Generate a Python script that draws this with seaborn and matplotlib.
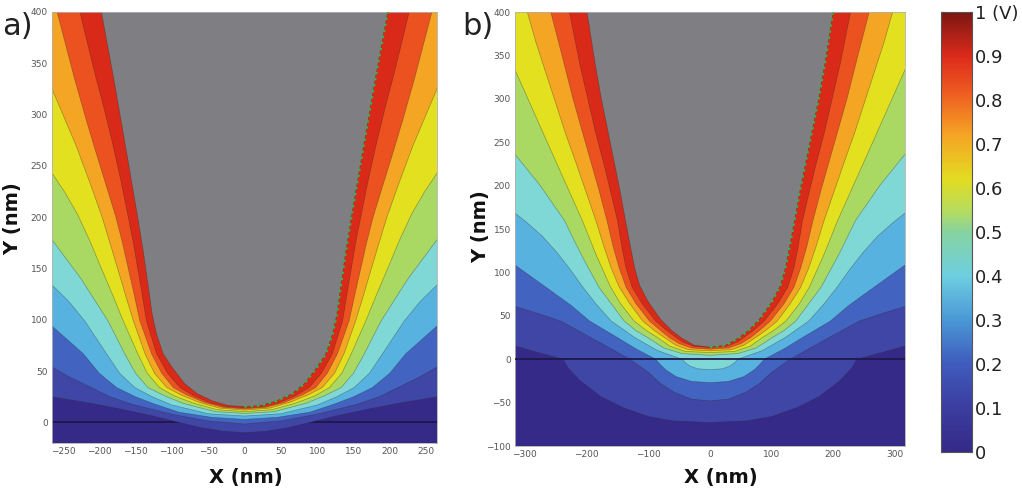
import matplotlib
matplotlib.use("Agg")
import matplotlib.pyplot as plt
import numpy as np
import seaborn as sns
from matplotlib.colors import LinearSegmentedColormap, Normalize
from matplotlib.cm import ScalarMappable

# equipotential levels (V); the last one is the tip surface itself
LEVELS = [0.1, 0.2, 0.3, 0.4, 0.5, 0.6, 0.7, 0.8, 0.9, 1.0]
BAND_COLORS = ["#3f46a6", "#4263bf", "#58b2e0", "#80d8d6", "#a9d962",
               "#e3e01f", "#f5a524", "#ec5220", "#d92a19", "#7f7e82"]
BASE_COLOR = "#362a88"

# panel a) right half of each equipotential, x / y in nm (mirrored about x = 0)
A_V01_X = [0, 30, 60, 90, 130, 170, 210, 265, 320]
A_V01_Y = [-10, -8.5, -5, 0, 7, 13, 18.5, 25, 30]
A_V02_X = [0, 50, 100, 156, 185, 211, 240, 265, 320]
A_V02_Y = [-1.5, 1.5, 8, 18, 25, 34, 44, 54, 76]
A_V03_X = [0, 45, 90, 124, 150, 176, 200, 222, 265, 320]
A_V03_Y = [3, 5, 10, 18, 25, 34, 48, 67, 94, 130]
A_V04_X = [0, 50, 100, 127, 151, 172, 190, 220, 242, 265, 320]
A_V04_Y = [6.3, 8.5, 17, 25, 34, 48, 67, 99, 118, 134, 178]
A_V05_X = [0, 40, 84, 110, 133, 150, 165, 188, 225, 265, 320]
A_V05_Y = [8.8, 10.5, 18.5, 26, 34, 48, 67, 99, 140, 178, 235]
A_V06_X = [0, 38, 71, 97, 117, 134, 147, 167, 182, 197, 213, 230, 248, 265, 310]
A_V06_Y = [10.5, 12.5, 19, 26, 34, 48, 67, 99, 125, 150, 177, 203, 225, 243, 290]
A_V07_X = [0, 35, 62, 88, 107, 124, 137, 153, 163, 173, 184, 196, 212, 232, 250, 265, 290, 315]
A_V07_Y = [12, 14, 19.5, 27, 34, 48, 67, 99, 122, 146, 172, 200, 232, 270, 300, 325, 370, 420]
A_V08_X = [0, 30, 55, 80, 98, 114, 128, 144, 152, 160, 168, 177, 190, 204, 218, 234, 258, 272]
A_V08_Y = [13.2, 14.8, 19.5, 27, 34, 48, 67, 99, 125, 150, 175, 200, 230, 262, 295, 335, 400, 440]
A_V09_X = [0, 25, 47, 70, 89, 106, 121, 135, 141, 147, 153, 160, 170, 181, 193, 206, 225, 238]
A_V09_Y = [14.3, 15.3, 19, 26, 34, 48, 67, 99, 125, 150, 175, 200, 235, 270, 305, 340, 395, 440]
A_TIP_X = [0, 22, 44, 65, 82, 100, 112, 121, 127, 132, 139, 147, 164, 180, 197, 210]
A_TIP_Y = [15.5, 16.5, 21, 28, 37.5, 54, 67, 86, 105, 130, 165, 200, 270, 335, 400, 452]

# panel b) same, tip above a dielectric (field continues below y = 0)
B_V01_X = [0, 60, 100, 140, 177, 210, 230, 238, 280, 317, 340]
B_V01_Y = [-73, -71, -66, -56, -43, -25, -10, 0, 8, 15.5, 20]
B_V02_X = [0, 30, 58, 80, 100, 118, 130, 160, 193, 242, 280, 317, 340]
B_V02_Y = [-48, -46, -38, -28, -15, -6, 0, 12, 25, 44, 53, 61, 66]
B_V03_X = [0, 30, 55, 72, 82, 88, 120, 150, 195, 225, 260, 317, 340]
B_V03_Y = [-27, -25.5, -20, -12, -5, 0, 12, 25, 44, 62, 80, 109, 120]
B_V04_X = [0, 20, 32, 40, 45, 85, 122, 160, 185, 206, 226, 248, 272, 296, 317, 340]
B_V04_Y = [-12, -11, -8, -4, 0, 10, 25, 44, 64, 83, 103, 123, 142, 157, 169, 184]
B_V05_X = [0, 45, 75, 101, 120, 139, 160, 180, 209, 236, 275, 317, 340]
B_V05_Y = [4.5, 6.5, 13, 25, 33, 44, 64, 83, 121, 160, 200, 237, 258]
B_V06_X = [0, 40, 65, 85, 103, 123, 145, 161, 185, 207, 265, 295, 317, 335]
B_V06_Y = [7.7, 9, 15, 25, 33, 44, 64, 83, 121, 160, 252, 300, 335, 365]
B_V07_X = [0, 35, 55, 74, 90, 109, 130, 147, 160, 172, 185, 202, 219, 235, 250, 266, 282, 296, 312]
B_V07_Y = [9.6, 11, 16, 25, 33, 44, 64, 83, 105, 130, 160, 195, 230, 262, 295, 330, 365, 400, 440]
B_V08_X = [0, 30, 50, 66, 80, 98, 120, 136, 147, 157, 167, 180, 194, 208, 222, 238, 258, 272]
B_V08_Y = [11.5, 13, 18, 25, 33, 44, 64, 83, 105, 130, 160, 195, 230, 265, 300, 345, 400, 440]
B_V09_X = [0, 25, 45, 55, 70, 88, 110, 126, 136, 143, 150, 160, 172, 185, 198, 211, 225, 242]
B_V09_Y = [13.5, 14.5, 20, 25, 33, 44, 64, 83, 105, 130, 160, 190, 225, 260, 300, 340, 390, 450]
B_TIP_X = [0, 25, 45, 62, 80, 100, 114, 122, 129, 137, 146, 156, 166, 176, 186, 197, 212]
B_TIP_Y = [14, 16, 24, 33, 46, 66, 85, 105, 130, 160, 195, 230, 265, 300, 340, 390, 450]

A_XTICKS = [-250, -200, -150, -100, -50, 0, 50, 100, 150, 200, 250]
A_YTICKS = [0, 50, 100, 150, 200, 250, 300, 350, 400]
B_XTICKS = [-300, -200, -100, 0, 100, 200, 300]
B_YTICKS = [-100, -50, 0, 50, 100, 150, 200, 250, 300, 350, 400]

CBAR_TICKS = [0, 0.1, 0.2, 0.3, 0.4, 0.5, 0.6, 0.7, 0.8, 0.9, 1.0]
CBAR_LABELS = ["0", "0.1", "0.2", "0.3", "0.4", "0.5", "0.6", "0.7", "0.8", "0.9", "1 (V)"]
CBAR_STOPS = [0.0, 0.1, 0.2, 0.3, 0.4, 0.5, 0.55, 0.62, 0.72, 0.82, 0.9, 1.0]
CBAR_COLORS = ["#352a87", "#3b3d9f", "#3f5cbc", "#4a98d6", "#6dcfe0", "#86d3a0",
               "#b7dc5c", "#e2dc22", "#f5a524", "#ee5a22", "#dd2a1b", "#7c1712"]

sns.set_style("white")
plt.rcParams["font.family"] = ["DejaVu Sans"]


def mirror(xs, ys):
    x = np.asarray(xs, float)
    y = np.asarray(ys, float)
    return np.concatenate([-x[:0:-1], x]), np.concatenate([y[:0:-1], y])


def draw_panel(ax, curves, tip, xlim, ylim, xticks, yticks, line_on_top):
    ax.set_facecolor(BASE_COLOR)
    if not line_on_top:
        ax.axhline(0, color="#1d1848", lw=1.3, zorder=0.5)
    for (cx, cy), color in zip(curves + [tip], BAND_COLORS):
        xf, yf = mirror(cx, cy)
        ax.fill_between(xf, yf, 1000, color=color, lw=0, zorder=1)
        sns.lineplot(x=xf, y=yf, sort=False, estimator=None, ax=ax,
                     color="#2a2a2a", lw=0.5, alpha=0.4, zorder=2)
    # green dotted outline on the right flank of the tip
    sns.lineplot(x=tip[0], y=tip[1], sort=False, estimator=None, ax=ax,
                 color="#3fb04a", lw=1.7, linestyle=(0, (1, 1.6)), zorder=3)
    if line_on_top:
        ax.axhline(0, color="#1d1848", lw=1.4, alpha=0.9, zorder=4)
    ax.set_xlim(*xlim)
    ax.set_ylim(*ylim)
    ax.set_xticks(xticks)
    ax.set_yticks(yticks)
    ax.tick_params(length=0, labelsize=6.5, labelcolor="#555555", pad=3)
    for s in ax.spines.values():
        s.set_color("#b0b0b0")
        s.set_linewidth(0.6)


fig = plt.figure(figsize=(10.22, 4.91), dpi=100)
ax_a = fig.add_axes([0.0509, 0.0978, 0.3767, 0.8778])
ax_b = fig.add_axes([0.5039, 0.0916, 0.3816, 0.8839])
cax = fig.add_axes([0.9207, 0.0794, 0.0303, 0.8961])

a_curves = [(A_V01_X, A_V01_Y), (A_V02_X, A_V02_Y), (A_V03_X, A_V03_Y),
            (A_V04_X, A_V04_Y), (A_V05_X, A_V05_Y), (A_V06_X, A_V06_Y),
            (A_V07_X, A_V07_Y), (A_V08_X, A_V08_Y), (A_V09_X, A_V09_Y)]
b_curves = [(B_V01_X, B_V01_Y), (B_V02_X, B_V02_Y), (B_V03_X, B_V03_Y),
            (B_V04_X, B_V04_Y), (B_V05_X, B_V05_Y), (B_V06_X, B_V06_Y),
            (B_V07_X, B_V07_Y), (B_V08_X, B_V08_Y), (B_V09_X, B_V09_Y)]

draw_panel(ax_a, a_curves, (A_TIP_X, A_TIP_Y), (-265, 265), (-20, 400),
           A_XTICKS, A_YTICKS, line_on_top=False)
draw_panel(ax_b, b_curves, (B_TIP_X, B_TIP_Y), (-316, 316), (-100, 400),
           B_XTICKS, B_YTICKS, line_on_top=True)

for ax, ycoord, xcoord in [(ax_a, (-0.078, 0.52), (0.503, -0.058)),
                           (ax_b, (-0.064, 0.505), (0.528, -0.051))]:
    ax.set_xlabel("X (nm)", fontsize=14, fontweight="bold", color="#111111")
    ax.set_ylabel("Y (nm)", fontsize=14, fontweight="bold", color="#111111")
    ax.yaxis.set_label_coords(*ycoord)
    ax.xaxis.set_label_coords(*xcoord)

fig.text(0.002, 0.975, "a)", fontsize=22, color="#222222", va="top", ha="left")
fig.text(0.452, 0.975, "b)", fontsize=22, color="#222222", va="top", ha="left")

cmap = LinearSegmentedColormap.from_list("field", list(zip(CBAR_STOPS, CBAR_COLORS)))
cb = fig.colorbar(ScalarMappable(norm=Normalize(0, 1), cmap=cmap), cax=cax)
cb.set_ticks(CBAR_TICKS)
cb.set_ticklabels(CBAR_LABELS)
cax.tick_params(labelsize=13, labelcolor="#222222", direction="in", length=3,
                width=0.8, color="#333333", left=True, right=True, pad=2)
cb.outline.set_edgecolor("#555555")
cb.outline.set_linewidth(0.8)

fig.savefig("out.png", dpi=100)
